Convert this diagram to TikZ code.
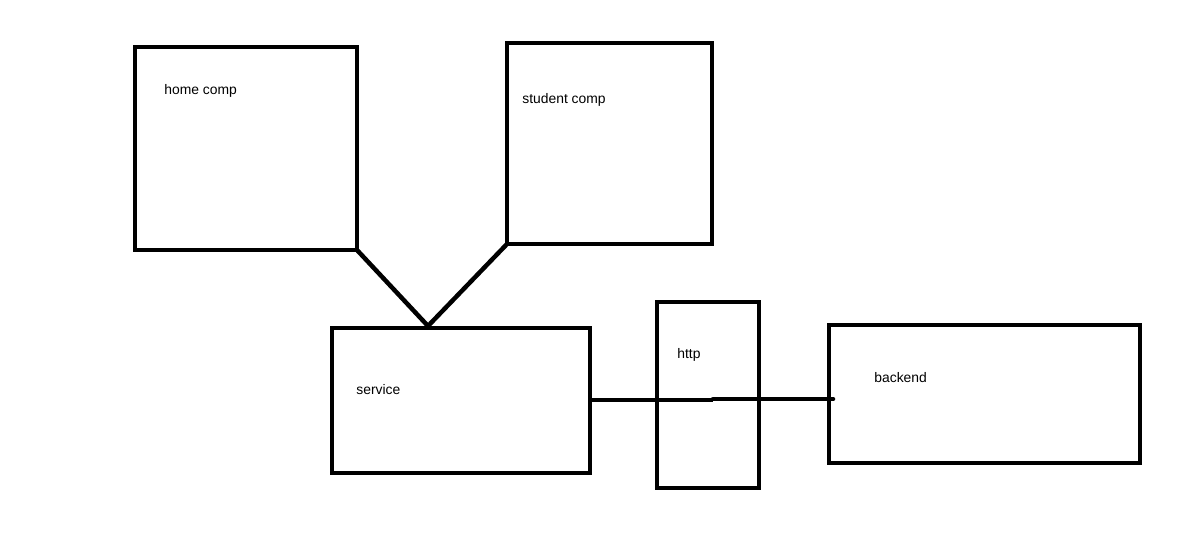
\documentclass[tikz,border=0pt]{standalone}
\usepackage{fontspec}
\setmainfont{Liberation Sans}
\usetikzlibrary{positioning}

\begin{document}
\begin{tikzpicture}[x=0.02cm,y=-0.02cm]
        \tikzstyle{box}=[rectangle,draw=black,line width=0.09cm,inner sep=0pt,outer sep=0pt]
        \tikzstyle{lbl}=[anchor=west,inner sep=0pt,font=\fontsize{7.9}{9}\selectfont]
        \tikzstyle{wire}=[draw=black,line width=0.09cm]
        \useasboundingbox (0,0) rectangle (1187,532);
        % boxes
        \node[box,minimum width=4.44cm,minimum height=4.06cm] (home) at (246,148.5) {};
        \node[box,minimum width=4.1cm,minimum height=4.02cm] (student) at (609.5,143.5) {};
        \node[box,minimum width=5.16cm,minimum height=2.9cm] (service) at (461,400.5) {};
        \node[box,minimum width=2.04cm,minimum height=3.72cm] (http) at (708,395) {};
        \node[box,minimum width=6.22cm,minimum height=2.76cm] (backend) at (984.5,394) {};
        % labels
        \node[lbl] (homelbl) at ([shift={(29,44)}]home.north west) {home comp};
        \node[lbl] (studentlbl) at ([shift={(15,57)}]student.north west) {student comp};
        \node[lbl] (servicelbl) at ([shift={(24,62)}]service.north west) {service};
        \node[lbl] (httplbl) at ([shift={(20,53)}]http.north west) {http};
        \node[lbl] (backendlbl) at ([shift={(45,53)}]backend.north west) {backend};
        % connectors
        \coordinate (apex) at (428,326);
        \coordinate (mida) at (713,400);
        \coordinate (midb) at (713,399);
        \draw[wire] (home.south east) -- (apex) -- (student.south west);
        \draw[wire] (service.east |- mida) -- (mida);
        \draw[wire,line cap=round] (midb) -- ([xshift=0.08cm]backend.west |- midb);
\end{tikzpicture}
\end{document}
